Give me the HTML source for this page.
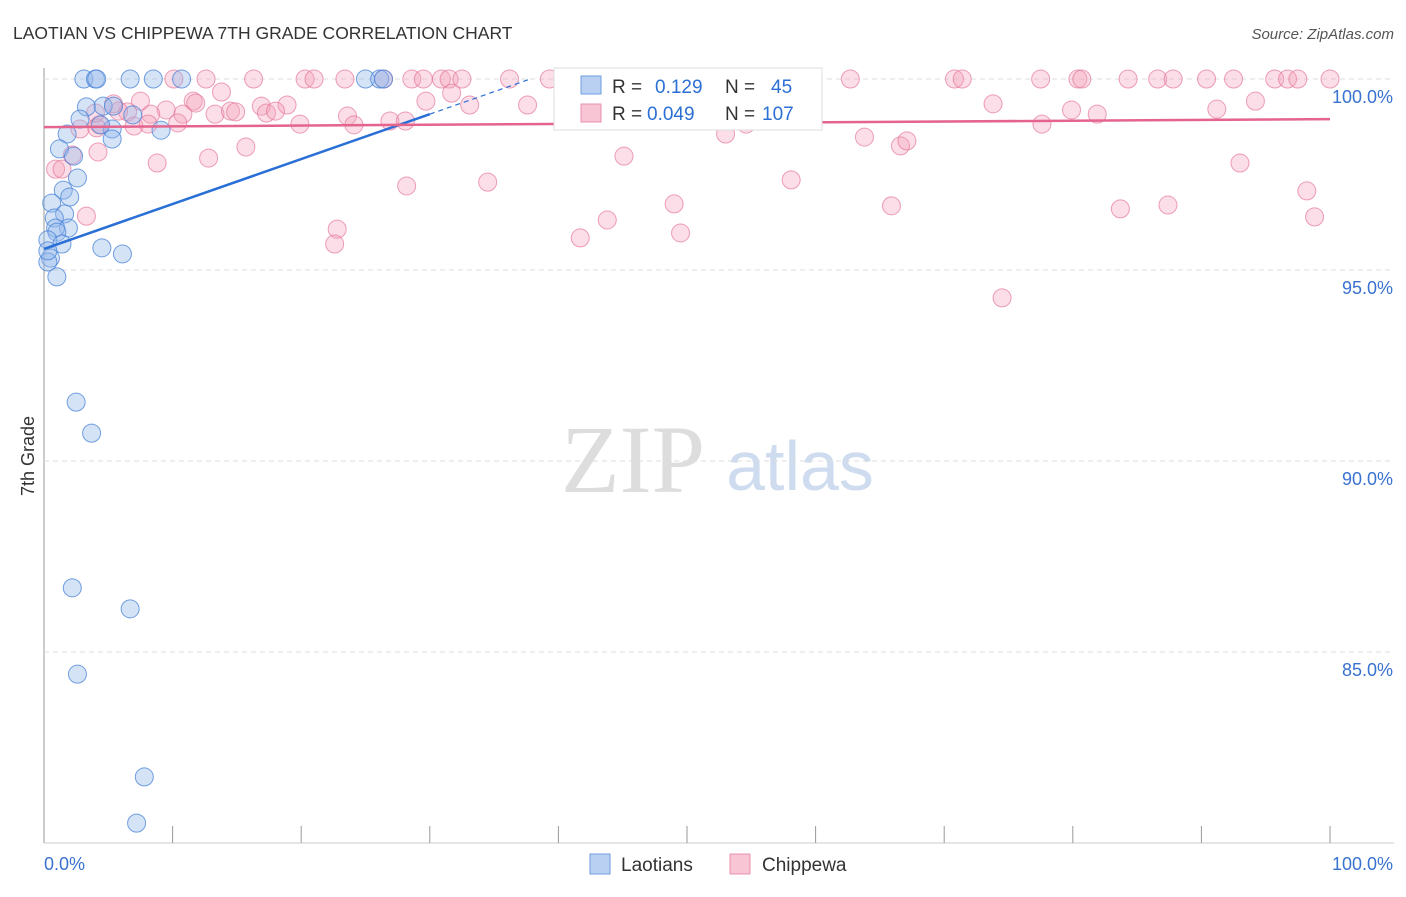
<!DOCTYPE html>
<html><head><meta charset="utf-8"><style>
body{margin:0;background:#fff;font-family:"Liberation Sans",sans-serif;}
svg text{font-family:"Liberation Sans",sans-serif;}
</style></head><body>
<svg id="c" width="1406" height="892" xmlns="http://www.w3.org/2000/svg">
<text x="13" y="39" font-size="17.5" fill="#333">LAOTIAN VS CHIPPEWA 7TH GRADE CORRELATION CHART</text>
<text x="1394" y="39" font-size="15" fill="#555" text-anchor="end" font-style="italic">Source: ZipAtlas.com</text>
<text x="633" y="492" font-size="96" fill="#ddd" style="font-family:'Liberation Serif',serif" text-anchor="middle">ZIP</text>
<text x="800" y="490" font-size="70" fill="#cfdcf0" text-anchor="middle">atlas</text>
<text x="34" y="456" font-size="18" fill="#333" transform="rotate(-90 34 456)" text-anchor="middle">7th Grade</text>
<g id="grid"></g><g id="pts"></g><g id="lines"></g>
<g>
<rect x="554" y="68" width="268" height="62" fill="#fff" stroke="#ddd"/>
<rect x="581" y="76" width="20" height="18" fill="#b9d0f2" stroke="#6d9ee0"/>
<rect x="581" y="104" width="20" height="18" fill="#f7c5d3" stroke="#ea90ac"/>
<text x="612" y="93" font-size="19" fill="#333">R = <tspan fill="#2c6fd4" x="655">0.129</tspan><tspan x="725">N = </tspan><tspan fill="#2c6fd4" x="771">45</tspan></text>
<text x="612" y="120" font-size="19" fill="#333">R = <tspan fill="#2c6fd4" x="647">0.049</tspan><tspan x="725">N = </tspan><tspan fill="#2c6fd4" x="762">107</tspan></text>
</g>
<g>
<rect x="590" y="854" width="20" height="20" fill="#b9d0f2" stroke="#6d9ee0"/>
<text x="621" y="871" font-size="19" fill="#333">Laotians</text>
<rect x="730" y="854" width="20" height="20" fill="#f7c5d3" stroke="#ea90ac"/>
<text x="762" y="871" font-size="19" fill="#333">Chippewa</text>
</g>
</svg>
<script>
const yTicks=[100,95,90,85];
const yTickLabels=["100.0%","95.0%","90.0%","85.0%"];
const blueX=[3.1,4.0,4.1,6.7,8.5,10.7,25.0,26.1,26.4,3.3,4.6,5.4,6.9,2.8,1.8,5.3,4.4,9.1,5.3,1.2,2.3,2.6,1.5,2.0,0.6,1.6,0.8,1.9,0.9,1.0,0.3,1.4,4.5,6.1,0.5,0.3,0.3,1.0,2.5,3.7,2.2,6.7,2.6,7.8,7.2];
const blueY=[100,100,100,100,100,100,100,100,100,99.27,99.29,99.29,99.06,98.95,98.56,98.69,98.8,98.66,98.43,98.17,97.98,97.41,97.09,96.91,96.75,96.47,96.36,96.1,96.1,95.99,95.79,95.68,95.58,95.42,95.31,95.21,95.5,94.82,91.54,90.73,86.68,86.13,84.42,81.73,80.52];
const pinkX=[10.1,12.6,16.3,20.3,21.0,23.4,26.4,28.6,29.5,30.9,31.5,32.5,36.2,39.3,46.2,48.4,51.6,55.7,62.7,70.8,71.4,77.5,80.4,80.7,84.3,86.6,87.8,90.4,92.5,95.7,96.7,97.5,100,
7.5,11.6,13.8,16.9,18.9,11.8,9.5,6.5,5.8,8.3,10.8,13.3,14.5,14.9,17.3,18.0,19.9,7.0,8.1,10.4,4.3,2.8,23.6,24.1,26.9,28.1,29.7,31.7,33.1,37.6,40.7,45.8,54.6,58.9,73.8,79.9,81.9,91.2,94.2,77.6,53.0,63.8,66.6,67.1,15.7,8.8,12.8,4.2,2.2,0.9,1.4,3.3,28.2,34.5,45.1,58.1,93.0,98.2,98.8,83.7,87.4,65.9,49.0,49.5,43.8,41.7,22.8,22.6,74.5,4.1,4.0,5.4];
const pinkY=[100,100,100,100,100,100,100,100,100,100,100,100,100,100,100,100,100,100,100,100,100,100,100,100,100,100,100,100,100,100,100,100,100,
99.42,99.42,99.66,99.29,99.32,99.37,99.19,99.14,99.16,99.08,99.08,99.08,99.16,99.14,99.11,99.16,98.82,98.77,98.82,98.85,98.8,98.69,99.03,98.8,98.9,98.9,99.42,99.63,99.32,99.32,99.24,98.9,98.82,99.24,99.35,99.19,99.08,99.21,99.42,98.82,98.56,98.48,98.25,98.38,98.22,97.8,97.93,98.09,98.01,97.64,97.64,96.41,97.2,97.3,97.98,97.36,97.8,97.07,96.39,96.6,96.7,96.68,96.73,95.97,96.31,95.84,96.07,95.68,94.27,98.72,99.11,99.35];
const blueTrend=[95.55,99.08]; // at x=0 and x=30
const pinkTrend=[98.74,98.95]; // at x=0 and x=100
const X=v=>44+v*12.86, Y=v=>79+(100-v)*38.2;
const NS="http://www.w3.org/2000/svg";
function mk(p,t,a){const e=document.createElementNS(NS,t);for(const k in a)e.setAttribute(k,a[k]);p.appendChild(e);return e;}
const g=document.getElementById('grid');
const ax=mk(g,'line',{x1:44,y1:68,x2:44,y2:843,stroke:'#999'});


const bx=mk(g,'line',{x1:44,y1:843,x2:1394,y2:843,stroke:'#ccc'});


yTicks.forEach((t,i)=>{
 const l=mk(g,'line',{x1:44,y1:Y(t),x2:1394,y2:Y(t),stroke:'#ddd','stroke-dasharray':'5,4'});
 
 
 const tx=mk(g,'text',{x:1393,y:Y(t)+24,'font-size':18,fill:'#3a72d0','text-anchor':'end'});
 tx.textContent=yTickLabels[i];
 
 
});
for(let i=1;i<=10;i++){const l=mk(g,'line',{x1:X(i*10),y1:826,x2:X(i*10),y2:843,stroke:'#999'});
 
 }
const x0=mk(g,'text',{x:44,y:870,'font-size':18,fill:'#3a72d0'});x0.textContent='0.0%';


const x1=mk(g,'text',{x:1393,y:870,'font-size':18,fill:'#3a72d0','text-anchor':'end'});x1.textContent='100.0%';


const P=document.getElementById('pts');
pinkX.forEach((x,i)=>{const c=mk(P,'circle',{cx:X(x),cy:Y(pinkY[i]),r:9,fill:'rgba(244,160,185,0.35)',stroke:'rgba(230,120,155,0.7)'});
 
 });
blueX.forEach((x,i)=>{const c=mk(P,'circle',{cx:X(x),cy:Y(blueY[i]),r:9,fill:'rgba(150,185,235,0.4)',stroke:'rgba(70,130,215,0.75)'});
 
 });
const L=document.getElementById('lines');
const slope=(blueTrend[1]-blueTrend[0])/30;
const b1=mk(L,'line',{x1:X(0),y1:Y(blueTrend[0]),x2:X(30),y2:Y(blueTrend[1]),stroke:'#2a6fd6','stroke-width':2.5});


const xe=Math.min(100,(100-blueTrend[0])/slope);
const b2=mk(L,'line',{x1:X(30),y1:Y(blueTrend[1]),x2:X(xe),y2:Y(blueTrend[0]+slope*xe),stroke:'#2a6fd6','stroke-width':1.2,'stroke-dasharray':'5,4'});


const p1=mk(L,'line',{x1:X(0),y1:Y(pinkTrend[0]),x2:X(100),y2:Y(pinkTrend[1]),stroke:'#e4648e','stroke-width':2.5});


</script>
</body></html>
